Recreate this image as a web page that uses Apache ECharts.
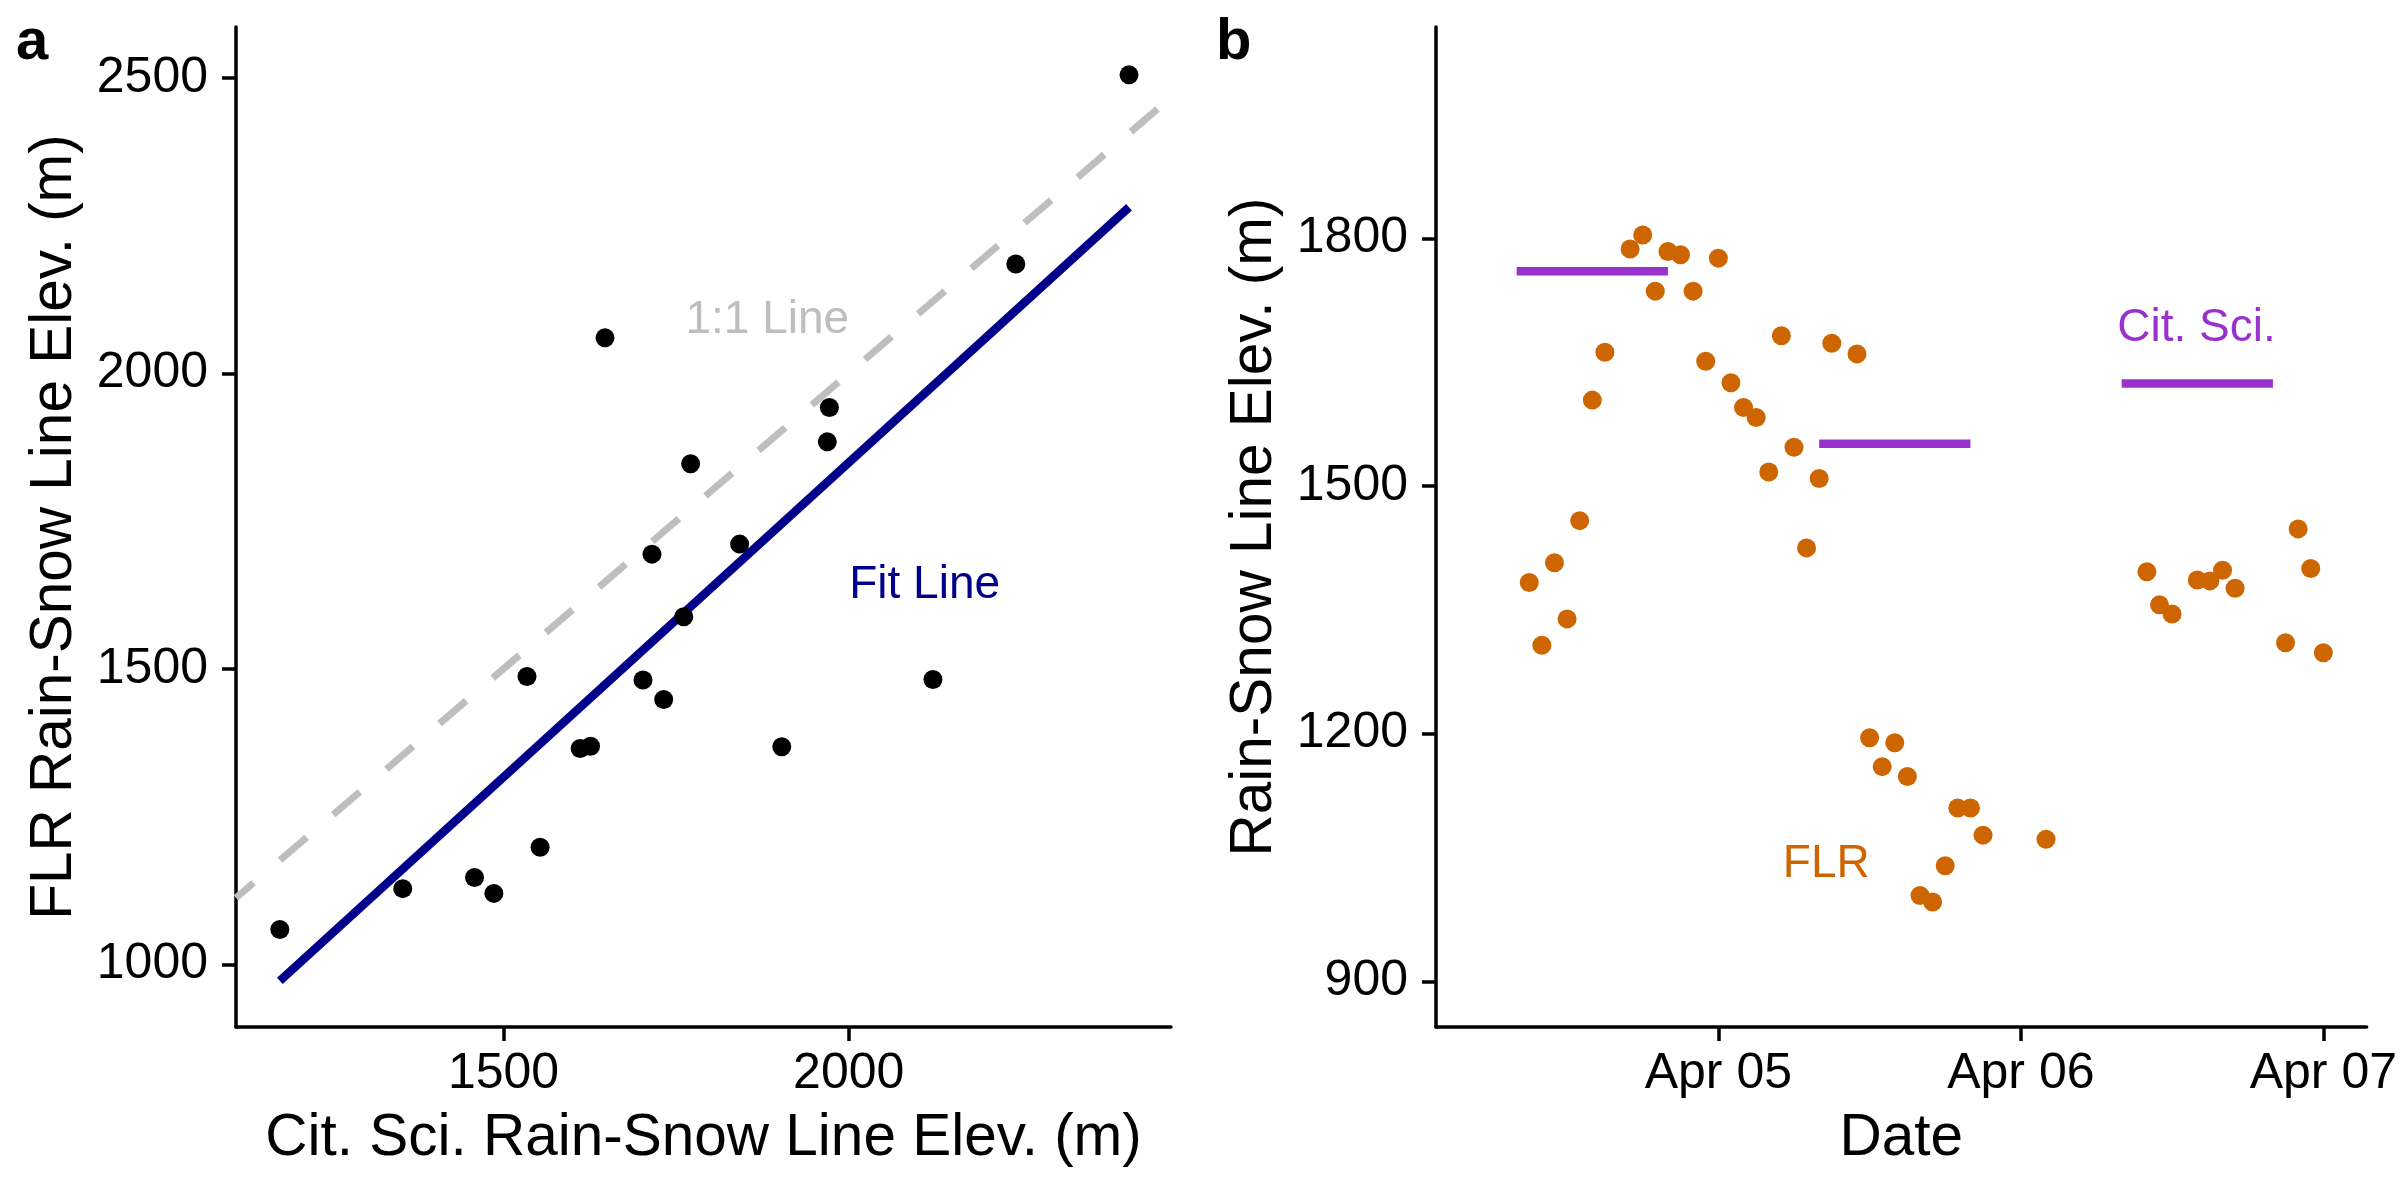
<!DOCTYPE html>
<html><head><meta charset="utf-8">
<script src="https://cdn.jsdelivr.net/npm/echarts@6/dist/echarts.min.js"></script>
<style>html,body{margin:0;padding:0;background:#fff}#c{width:2400px;height:1200px}</style>
</head><body><div id="c"></div>
<script>
// ---------- Panel a data ----------
const citSciElev = [2406, 2242, 1647, 1972, 1969, 1771, 1842, 1715, 1761, 1534, 1702, 1732, 2122, 1611, 1626, 1903, 1553, 1458, 1486, 1354, 1176];
const flrElev    = [2505, 2185, 2060, 1942, 1884, 1847, 1711, 1694, 1588, 1487, 1481, 1448, 1482, 1365, 1369, 1368, 1198, 1147, 1120, 1128, 1059];
const fitLineX = [1176, 2406];
const fitLineY = [972, 2281];
const aXTicks = [1500, 2000];
const aYTicks = [1000, 1500, 2000, 2500];
const aXRange = [1112.5, 2466.8];
const aYRange = [893.9, 2586];

// ---------- Panel b data ----------
const flrTimes = [
  '2023-04-04 09:00','2023-04-04 10:00','2023-04-04 11:00','2023-04-04 12:00','2023-04-04 13:00',
  '2023-04-04 14:00','2023-04-04 15:00','2023-04-04 17:00','2023-04-04 18:00','2023-04-04 19:00',
  '2023-04-04 20:00','2023-04-04 21:00','2023-04-04 22:00','2023-04-04 23:00','2023-04-05 00:00',
  '2023-04-05 01:00','2023-04-05 02:00','2023-04-05 03:00','2023-04-05 04:00','2023-04-05 05:00',
  '2023-04-05 06:00','2023-04-05 07:00','2023-04-05 08:00','2023-04-05 09:00','2023-04-05 11:00',
  '2023-04-05 12:00','2023-04-05 13:00','2023-04-05 14:00','2023-04-05 15:00','2023-04-05 16:00',
  '2023-04-05 17:00','2023-04-05 18:00','2023-04-05 19:00','2023-04-05 20:00','2023-04-05 21:00',
  '2023-04-06 02:00','2023-04-06 10:00','2023-04-06 11:00','2023-04-06 12:00','2023-04-06 14:00',
  '2023-04-06 15:00','2023-04-06 16:00','2023-04-06 17:00','2023-04-06 21:00','2023-04-06 22:00',
  '2023-04-06 23:00','2023-04-07 00:00'];
const flrValues = [
  1383, 1307, 1407, 1339, 1458,
  1604, 1662, 1787, 1804, 1736,
  1784, 1780, 1736, 1651, 1776,
  1625, 1595, 1583, 1517, 1682,
  1547, 1425, 1509, 1673, 1660,
  1195, 1160, 1189, 1148, 1004,
  996, 1040, 1110, 1110, 1077,
  1072, 1396, 1356, 1345, 1386,
  1385, 1398, 1376, 1310, 1448,
  1400, 1298];
const citStart  = ['2023-04-04 08:00', '2023-04-05 08:00', '2023-04-06 08:00'];
const citEnd    = ['2023-04-04 20:00', '2023-04-05 20:00', '2023-04-06 20:00'];
const citValues = [1760, 1551, 1624];
const bYTicks = [900, 1200, 1500, 1800];
const bXTicks = ['2023-04-05 00:00', '2023-04-06 00:00', '2023-04-07 00:00'];
const bXRange = ['2023-04-04 01:36', '2023-04-07 03:26'];
const bYRange = [844.6, 2056];

// ---------- helpers ----------
const T = s => new Date(s.replace(' ', 'T')).getTime();
const MONTHS = ['Jan','Feb','Mar','Apr','May','Jun','Jul','Aug','Sep','Oct','Nov','Dec'];
const fmtDate = v => { const d = new Date(v); return MONTHS[d.getMonth()] + ' ' + String(d.getDate()).padStart(2, '0'); };
const fmtNum = v => String(Math.round(v));

const FONT = 'Liberation Sans';
const AX = 3.5;
function axisCommon(ticks, isX, extra, fmt) {
  return Object.assign({
    axisLine: { show: true, onZero: false, lineStyle: { color: '#000', width: AX } },
    axisTick: { show: true, length: 14, lineStyle: { color: '#000', width: AX }, customValues: ticks },
    axisLabel: { show: true, color: '#000', fontSize: 50, fontFamily: FONT, margin: isX ? 22 : 28,
                 customValues: ticks, formatter: fmt || fmtNum },
    splitLine: { show: false },
    nameLocation: 'middle',
    nameTextStyle: { color: '#000', fontSize: 58.5, fontFamily: FONT },
    nameGap: isX ? 82 : 152
  }, extra);
}
function annot(xi, yi, pos, text, color) {
  return {
    type: 'scatter', xAxisIndex: xi, yAxisIndex: yi, silent: true, symbolSize: 1,
    itemStyle: { color: 'rgba(0,0,0,0)', opacity: 1 }, z: 10,
    label: { show: true, position: 'inside', formatter: text, color: color, opacity: 1, fontSize: 46, fontFamily: FONT },
    data: [pos]
  };
}

const chart = echarts.init(document.getElementById('c'), null, { renderer: 'canvas' });
chart.setOption({
  animation: false,
  backgroundColor: '#fff',
  grid: [
    { left: 236, top: 27, width: 935, height: 1000, containLabel: false },
    { left: 1436, top: 27, width: 935, height: 1000, containLabel: false }
  ],
  xAxis: [
    axisCommon(aXTicks, true, { type: 'value', gridIndex: 0, min: aXRange[0], max: aXRange[1], name: 'Cit. Sci. Rain-Snow Line Elev. (m)' }),
    axisCommon(bXTicks.map(T), true, { type: 'value', gridIndex: 1, min: T(bXRange[0]), max: T(bXRange[1]), name: 'Date' }, fmtDate)
  ],
  yAxis: [
    axisCommon(aYTicks, false, { type: 'value', gridIndex: 0, min: aYRange[0], max: aYRange[1], name: 'FLR Rain-Snow Line Elev. (m)' }),
    axisCommon(bYTicks, false, { type: 'value', gridIndex: 1, min: bYRange[0], max: bYRange[1], name: 'Rain-Snow Line Elev. (m)' })
  ],
  graphic: [
    { type: 'text', left: 16, top: 14, style: { text: 'a', fontSize: 58, fontWeight: 'bold', fontFamily: FONT, fill: '#000' } },
    { type: 'text', left: 1216, top: 14, style: { text: 'b', fontSize: 58, fontWeight: 'bold', fontFamily: FONT, fill: '#000' } }
  ],
  series: [
    { type: 'line', xAxisIndex: 0, yAxisIndex: 0, silent: true, symbol: 'none', z: 2,
      lineStyle: { color: '#BEBEBE', width: 7, type: [35, 35], dashOffset: 12, opacity: 1 },
      data: [[aXRange[0], aXRange[0]], [aXRange[1], aXRange[1]]] },
    { type: 'line', xAxisIndex: 0, yAxisIndex: 0, silent: true, symbol: 'none', z: 3,
      lineStyle: { color: '#00008B', width: 8.5, opacity: 1 },
      data: fitLineX.map((x, i) => [x, fitLineY[i]]) },
    { type: 'scatter', xAxisIndex: 0, yAxisIndex: 0, symbol: 'circle', symbolSize: 19, z: 5,
      itemStyle: { color: '#000', opacity: 1 },
      data: citSciElev.map((x, i) => [x, flrElev[i]]) },
    annot(0, 0, [1882, 2090], '1:1 Line', '#BEBEBE'),
    annot(0, 0, [2110, 1641], 'Fit Line', '#00008B'),

    ...citStart.map((s, i) => ({
      type: 'line', xAxisIndex: 1, yAxisIndex: 1, silent: true, symbol: 'none', z: 3,
      lineStyle: { color: '#9932CC', width: 8.5, cap: 'butt', opacity: 1 },
      data: [[T(s), citValues[i]], [T(citEnd[i]), citValues[i]]]
    })),
    { type: 'scatter', xAxisIndex: 1, yAxisIndex: 1, symbol: 'circle', symbolSize: 19, z: 5,
      itemStyle: { color: '#CD6600', opacity: 1 },
      data: flrTimes.map((t, i) => [T(t), flrValues[i]]) },
    annot(1, 1, [T('2023-04-06 13:56'), 1691], 'Cit. Sci.', '#9932CC'),
    annot(1, 1, [T('2023-04-05 08:34'), 1042], 'FLR', '#CD6600')
  ]
});
</script>
</body></html>
